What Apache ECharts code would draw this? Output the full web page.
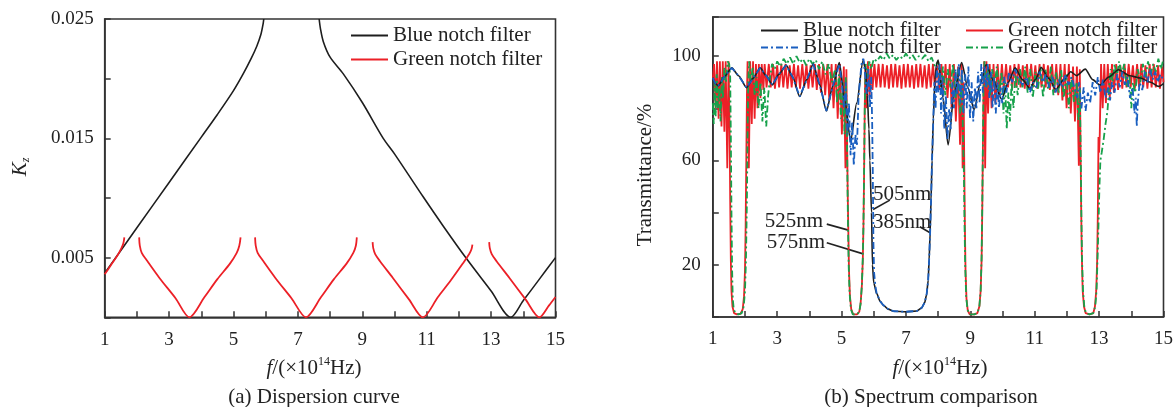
<!DOCTYPE html>
<html><head><meta charset="utf-8">
<script src="https://cdn.jsdelivr.net/npm/echarts@6/dist/echarts.min.js"></script>
<style>html,body{margin:0;padding:0;background:#fff}#c{width:1176px;height:407px}</style>
</head><body><div id="c"></div><script>
// ---------- (a) Dispersion curve ----------
const dispBlueSeg1 = [[1,0.0037],[2,0.0075],[3,0.0113],[4,0.0151],[4.5,0.0170],[5,0.0190],[5.3,0.0204],[5.55,0.0217],[5.72,0.0227],[5.85,0.0237],[5.92,0.0246],[5.94,0.0250]];
const dispBlueSeg2 = [[7.66,0.0250],[7.70,0.0242],[7.79,0.0231],[8.0,0.0218],[8.41,0.0204],[9.0,0.0180],[9.65,0.0150],[10.0,0.0137],[10.89,0.0101],[11.5,0.0077],[12.24,0.0049],[13.0,0.0022],[13.61,0],[14.0,0.0014],[14.5,0.0032],[15,0.0050]];
const dispGreenSegs = [
  [[1.00,0.0036],[1.20,0.0044],[1.40,0.0052],[1.52,0.0058],[1.58,0.0062],[1.61,0.0067]],
  [[2.07,0.0067],[2.09,0.0060],[2.15,0.0054],[2.30,0.0048],[2.70,0.0033],[3.20,0.0016],[3.63,0],[4.10,0.0017],[4.50,0.0032],[4.89,0.0045],[5.10,0.0054],[5.18,0.0060],[5.22,0.0067]],
  [[5.67,0.0067],[5.69,0.0060],[5.75,0.0054],[5.90,0.0048],[6.30,0.0033],[6.80,0.0016],[7.25,0],[7.72,0.0017],[8.12,0.0032],[8.51,0.0045],[8.72,0.0054],[8.80,0.0060],[8.83,0.0067]],
  [[9.32,0.0063],[9.34,0.0058],[9.40,0.0053],[9.55,0.0047],[9.95,0.0033],[10.45,0.0015],[10.88,0],[11.35,0.0017],[11.75,0.0031],[12.12,0.0045],[12.32,0.0053],[12.39,0.0057],[12.42,0.0061]],
  [[12.94,0.0063],[12.96,0.0058],[13.02,0.0053],[13.17,0.0047],[13.57,0.0033],[14.07,0.0015],[14.50,0],[14.80,0.0010],[15.00,0.0017]]
];
const dispYLabels = [0.005, 0.015, 0.025];
const freqLabels = [1,3,5,7,9,11,13,15];

// ---------- (b) Spectrum comparison ----------
const specGreenSolid = [[1.00,91],[1.04,97],[1.09,80],[1.13,98],[1.18,76],[1.22,98],[1.27,73],[1.31,98],[1.36,71],[1.40,98],[1.45,57],[1.49,98],
[1.52,75],[1.54,45],[1.56,22],[1.58,10],[1.61,4],[1.66,1.5],[1.75,1],[1.86,1.2],[1.93,3],[1.97,8],[2.00,18],[2.02,35],[2.04,60],[2.06,85],[2.08,98],
[2.12,57],[2.16,98],[2.21,74],[2.25,98],[2.30,76],[2.34,97],[2.39,80],[2.43,97],[2.48,84],[2.52,97],[2.57,87],
[2.61,97],[2.67,88],[2.74,97],[2.80,88],[2.87,97],[2.93,87.5],[3.00,96.5],[3.06,88],[3.13,97],[3.19,88],[3.26,97],[3.32,87.5],[3.39,96.5],[3.45,88],[3.52,97],[3.58,88],[3.65,96.5],[3.71,87.5],[3.78,97],[3.84,88],[3.91,97],[3.97,87.5],[4.04,96.5],[4.10,88],[4.17,97],[4.23,87],[4.30,97],[4.36,86],[4.43,97],[4.49,85],[4.56,97],[4.62,83],[4.69,97],[4.75,80],[4.82,97],[4.88,76],[4.95,97],[5.01,70],[5.07,96],[5.12,57],[5.15,95],
[5.17,70],[5.19,48],[5.21,33],[5.23,18],[5.26,8],[5.30,3],[5.36,1],[5.48,1],[5.55,2],[5.59,5],[5.63,12],[5.66,22],[5.68,35],[5.70,55],[5.72,80],[5.74,97],
[5.78,80],[5.82,98],[5.87,84],[5.91,97],[5.96,87],[6.02,97],[6.08,88],
[6.15,97],[6.21,88],[6.28,97],[6.34,88],[6.41,96.5],[6.47,87.5],[6.54,97],[6.60,88],[6.67,97],[6.73,88],[6.80,96.5],[6.86,87.5],[6.93,97],[6.99,88],[7.06,97],[7.12,88],[7.19,96.5],[7.25,87.5],[7.32,97],[7.38,88],[7.45,97],[7.51,88],[7.58,96.5],[7.64,87.5],[7.71,97],[7.77,88],[7.84,97],[7.90,88],[7.97,96.5],[8.03,87],[8.10,97],[8.16,86],[8.23,97],[8.29,84],[8.36,97],[8.42,80],[8.49,97],[8.55,75],[8.62,96],[8.68,66],[8.73,97],[8.76,57],
[8.79,90],[8.81,60],[8.83,35],[8.85,18],[8.88,7],[8.92,2.5],[8.98,1],[9.12,1],[9.22,1.5],[9.28,4],[9.32,10],[9.35,22],[9.37,40],[9.39,65],[9.41,90],[9.43,98],
[9.46,57],[9.50,98],[9.55,78],[9.60,97],[9.66,80],[9.72,97],[9.78,82],[9.85,97],[9.91,85],[9.98,97],[10.04,87],
[10.11,97],[10.17,88],[10.24,96.5],[10.30,87.5],[10.37,97],[10.43,88],[10.50,97],[10.56,88],[10.63,96.5],[10.69,87.5],[10.76,97],[10.82,88],[10.89,97],[10.95,88],[11.02,96.5],[11.08,87.5],[11.15,97],[11.21,88],[11.28,97],[11.34,88],[11.41,96.5],[11.47,87],[11.54,97],[11.60,86],[11.67,97],[11.73,85],[11.80,97],[11.86,83],[11.93,97],[11.99,80],[12.06,97],[12.12,78],[12.19,96],[12.25,75],[12.31,96],[12.37,58],[12.40,95],
[12.42,70],[12.44,45],[12.46,25],[12.49,10],[12.53,4],[12.58,1.5],[12.70,1],[12.82,1.5],[12.87,4],[12.91,10],[12.94,22],[12.96,40],[12.98,69],[13.00,63],[13.02,70],
[13.06,97],[13.11,80],[13.16,97],[13.21,82],[13.27,97],[13.33,84],[13.40,97],[13.46,86],
[13.53,97],[13.59,87],[13.66,96.5],[13.72,87.5],[13.79,97],[13.85,88],[13.92,97],[13.98,88],[14.05,96.5],[14.11,87.5],[14.18,97],[14.24,88],[14.31,97],[14.37,88],[14.44,96.5],[14.50,87.5],[14.57,97],[14.63,88],[14.70,97],[14.76,88],[14.83,96.5],[14.89,87.5],[14.96,96],[15.00,90]];

const specGreenDash = [[1.00,82],[1.03,74],[1.06,90],[1.09,77],[1.12,93],[1.16,80],[1.20,88],[1.24,75],[1.28,92],[1.32,84],[1.36,96],[1.41,90],[1.46,98],[1.51,97],[1.54,92],
[1.56,70],[1.58,40],[1.60,18],[1.62,7],[1.65,3],[1.70,1.5],[1.80,1],[1.90,1.5],[1.96,4],[2.00,10],[2.03,22],[2.06,45],[2.08,70],[2.10,90],[2.13,98],
[2.18,90],[2.24,96],[2.30,85],[2.36,92],[2.42,80],[2.48,90],[2.54,75],[2.60,88],[2.66,73],[2.72,85],[2.78,92],[2.84,97],[2.92,95],[3.0,98],[3.1,96],[3.2,99],[3.3,97],[3.4,99.5],[3.5,97],[3.6,100],[3.7,97.5],[3.8,99],[3.9,96.5],[4.0,99],[4.1,97],[4.2,98.5],[4.3,95],[4.4,98],[4.5,93],[4.6,97],[4.7,90],[4.8,95],[4.86,82],[4.92,93],[4.98,76],[5.04,90],[5.09,70],[5.13,92],
[5.16,80],[5.18,55],[5.20,35],[5.22,20],[5.25,9],[5.29,3],[5.35,1],[5.48,1],[5.55,2],[5.59,5],[5.63,12],[5.66,23],[5.68,36],[5.70,56],[5.72,80],[5.75,97],
[5.80,92],[5.86,98],[5.92,95],[6.0,99],[6.1,98],[6.2,100],[6.3,98.5],[6.4,101],[6.5,99],[6.6,100.5],[6.7,98.5],[6.8,100],[6.9,99],[7.0,101],[7.1,99],[7.2,100.5],[7.3,98.5],[7.4,100],[7.5,99],[7.6,100.5],[7.7,98],[7.8,99.5],[7.9,96],[8.0,98],[8.08,88],[8.15,96],[8.22,85],[8.30,95],[8.38,88],[8.46,97],[8.54,84],[8.62,95],[8.68,78],[8.74,94],[8.77,70],
[8.80,55],[8.82,35],[8.84,20],[8.87,8],[8.91,3],[8.97,1],[9.12,1],[9.22,1.5],[9.28,4],[9.32,10],[9.35,23],[9.37,42],[9.39,66],[9.41,88],[9.44,98],
[9.50,88],[9.56,96],[9.62,85],[9.68,95],[9.75,88],[9.82,96],[9.90,86],[9.97,94],[10.03,78],[10.08,90],[10.13,72],[10.18,86],[10.23,75],[10.28,90],[10.34,80],[10.40,93],[10.47,85],[10.54,95],[10.62,88],[10.70,96],[10.78,86],[10.86,95],[10.94,84],[11.02,94],[11.10,87],[11.18,96],[11.26,84],[11.34,95],[11.42,87],[11.50,96],[11.58,85],[11.66,94],[11.74,86],[11.82,95],[11.90,84],[11.98,93],[12.06,80],[12.14,92],[12.22,82],[12.30,90],[12.36,75],[12.40,88],
[12.43,60],[12.45,38],[12.47,22],[12.50,10],[12.54,4],[12.59,1.5],[12.70,1],[12.82,1.5],[12.88,4],[12.92,10],[12.95,22],[12.98,35],[13.01,50],[13.04,60],[13.08,63],[13.14,68],[13.20,74],[13.26,79],[13.31,88],[13.36,95],[13.42,90],[13.48,97],[13.55,92],[13.62,98],[13.70,93],[13.78,97],[13.86,88],[13.94,93],[14.00,80],[14.05,90],[14.12,86],[14.20,95],[14.28,90],[14.36,97],[14.44,92],[14.52,98],[14.60,93],[14.68,97],[14.76,94],[14.84,99],[14.92,95],[15.00,99]];

const specBlueSolid = [[1.00,91.7],[1.08,89.5],[1.17,88.6],[1.35,92],[1.59,95.5],[1.80,92.5],[2.05,87.9],[2.25,91.5],[2.47,95.5],[2.66,92.5],[2.85,89],[3.05,93],[3.28,96.5],[3.48,92],[3.70,84.5],[3.92,91],[4.12,97],[4.32,89],[4.53,79],[4.73,88.5],[4.93,97.5],[5.10,83],[5.28,67.5],[5.47,82],[5.67,98.5],[5.74,95],[5.80,85],[5.85,72],[5.88,60],[5.93,40],[5.96,20],[6.00,13],[6.09,9],[6.20,6],[6.30,4.5],[6.45,3],[6.62,2.2],[7.00,2],[7.34,2.3],[7.49,3.5],[7.58,5.5],[7.64,8.5],[7.69,14],[7.72,22],[7.75,32],[7.78,45],[7.81,60],[7.85,76],[7.90,91],[7.95,97],[8.00,98.5],[8.15,84],[8.31,66],[8.50,86],[8.73,97.5],[8.92,88],[9.12,79.5],[9.30,89],[9.49,96.8],[9.72,90.5],[9.97,83.5],[10.18,90],[10.39,95.5],[10.62,91],[10.85,87.6],[11.02,91],[11.20,95.6],[11.43,91.5],[11.66,87.3],[11.90,91],[12.12,94],[12.30,92.5],[12.57,95],[12.80,91],[13.03,88.9],[13.30,92],[13.60,94.8],[13.95,92.5],[14.28,91.6],[14.60,90],[14.85,88.4],[15.00,89.5]];

const specBlueDash = [[1.00,91.7],[1.08,89.5],[1.17,88.6],[1.35,92],[1.59,95.5],[1.80,92.5],[2.05,87.9],[2.25,91.5],[2.47,95.5],[2.66,92.5],[2.85,89],[3.05,93],[3.28,96.5],[3.48,92],[3.70,84.5],[3.92,91],[4.12,97],[4.32,89],[4.53,79],[4.73,88.5],[4.93,97],[5.02,88],[5.08,80],[5.13,90],[5.18,70],[5.23,82],[5.28,62],[5.33,75],[5.38,58],[5.43,70],[5.48,66],[5.53,85],[5.58,92],[5.63,98],[5.68,99],[5.73,93],[5.78,85],[5.83,95],[5.88,80],[5.92,92],[5.95,75],[5.97,55],[5.98,41],[5.99,28],[6.01,17],[6.05,12],[6.09,9],[6.20,6],[6.30,4.5],[6.45,3],[6.62,2.2],[7.00,2],[7.34,2.3],[7.49,3.5],[7.58,5.5],[7.64,8.5],[7.69,14],[7.72,22],[7.75,32],[7.78,45],[7.81,60],[7.85,76],[7.88,90],[7.92,80],[7.96,96],[8.00,86],[8.05,97],[8.09,78],[8.14,92],[8.19,72],[8.24,85],[8.29,68],[8.34,80],[8.39,72],[8.44,90],[8.49,80],[8.54,95],[8.59,85],[8.64,97],[8.69,82],[8.74,95],[8.79,78],[8.84,93],[8.89,80],[8.94,96],[8.99,76],[9.04,90],[9.09,75],[9.14,88],[9.19,80],[9.24,94],[9.29,82],[9.34,97],[9.39,86],[9.44,96],[9.49,88],[9.54,97],[9.59,84],[9.64,94],[9.69,80],[9.74,92],[9.79,78],[9.84,90],[9.89,80],[9.94,88],[9.99,82],[10.05,92],[10.12,86],[10.20,94],[10.30,90],[10.39,95],[10.50,91],[10.62,89],[10.75,92],[10.85,86],[10.95,90],[11.05,88],[11.15,94],[11.25,90],[11.35,93],[11.45,88],[11.55,92],[11.65,86],[11.75,91],[11.85,88],[11.95,93],[12.05,89],[12.15,92],[12.25,87],[12.32,84],[12.38,90],[12.45,80],[12.52,88],[12.58,79],[12.65,86],[12.72,82],[12.80,90],[12.88,85],[12.96,92],[13.04,86],[13.12,91],[13.20,84],[13.28,88],[13.34,83],[13.40,90],[13.48,86],[13.56,93],[13.64,88],[13.72,94],[13.80,89],[13.88,92],[13.96,84],[14.04,88],[14.10,78],[14.14,84],[14.17,73],[14.20,82],[14.26,90],[14.34,87],[14.42,94],[14.50,90],[14.58,95],[14.66,91],[14.74,94],[14.82,90],[14.90,93],[15.00,91]];

const specYLabels = [20, 60, 100];

// annotations (data coordinates of panel b)
const noteLabels   = ['505nm','385nm','525nm','575nm'];
const noteTextAt   = [[6.88,47.0],[6.88,36.4],[3.52,36.8],[3.58,28.4]];
const noteLineFrom = [[6.50,44.8],[7.43,34.6],[4.54,35.6],[4.54,28.5]];
const noteLineTo   = [[5.98,41.2],[7.75,32.3],[5.21,33.3],[5.67,24.2]];

// ---------- styling ----------
const FONT = "'Liberation Serif','Times New Roman',serif";
const AX = '#333';
const C_BLACK = '#1e1e1e', C_RED = '#ec2027', C_BLUE = '#1a5fc0', C_GREEN = '#17a14b';
const DASHDOT = [7,3,2,3];

function xAxisCfg(grid){
  return {type:'value', gridIndex:grid, min:1, max:15, interval:1,
    axisLine:{show:true, lineStyle:{color:AX, width:1.6}},
    axisTick:{show:true, inside:true, length:6, lineStyle:{color:AX, width:1.5}},
    axisLabel:{fontFamily:FONT, fontSize:19, color:'#222', margin:13,
      formatter:v => freqLabels.includes(Math.round(v)) && Math.abs(v-Math.round(v))<1e-6 ? String(Math.round(v)) : ''},
    splitLine:{show:false}};
}
const names = {
  bs:'Blue notch filter (b1)', gs:'Green notch filter (b1)',
  bd:'Blue notch filter (b2)', gd:'Green notch filter (b2)'
};
const stripName = n => n.replace(/ \(b\d\)$/, '');
const legendText = {fontFamily:FONT, fontSize:21, color:'#222', lineHeight:20};
const noSymbol = {color:'rgba(0,0,0,0)', borderColor:'rgba(0,0,0,0)', borderWidth:0, opacity:0};
function oneLegend(name, left, top){
  return {data:[name], left:left, top:top, orient:'vertical', padding:0, itemWidth:37, itemHeight:10,
    itemStyle:noSymbol, textStyle:legendText, formatter:stripName, selectedMode:false};
}

const series = [];
series.push({name:'Blue notch filter', type:'line', xAxisIndex:0, yAxisIndex:0, data:dispBlueSeg1, showSymbol:false, symbol:'none', smooth:0.3, lineStyle:{color:C_BLACK,width:1.6}, itemStyle:{color:C_BLACK}});
series.push({name:'Blue notch filter', type:'line', xAxisIndex:0, yAxisIndex:0, data:dispBlueSeg2, showSymbol:false, symbol:'none', smooth:0.3, lineStyle:{color:C_BLACK,width:1.6}, itemStyle:{color:C_BLACK}});
dispGreenSegs.forEach(seg => series.push({name:'Green notch filter', type:'line', xAxisIndex:0, yAxisIndex:0, data:seg, showSymbol:false, symbol:'none', smooth:0.3, lineStyle:{color:C_RED,width:1.8}, itemStyle:{color:C_RED}}));
series.push({name:names.gs, type:'line', xAxisIndex:1, yAxisIndex:1, data:specGreenSolid, showSymbol:false, symbol:'none', lineStyle:{color:C_RED,width:1.8}, itemStyle:{color:C_RED}});
series.push({name:names.gd, type:'line', xAxisIndex:1, yAxisIndex:1, data:specGreenDash, showSymbol:false, symbol:'none', lineStyle:{color:C_GREEN,width:1.8,type:DASHDOT}, itemStyle:{color:C_GREEN}});
series.push({name:names.bs, type:'line', xAxisIndex:1, yAxisIndex:1, data:specBlueSolid, showSymbol:false, symbol:'none', smooth:0.25, smoothMonotone:'x', lineStyle:{color:C_BLACK,width:1.6}, itemStyle:{color:C_BLACK}});
series.push({name:names.bd, type:'line', xAxisIndex:1, yAxisIndex:1, data:specBlueDash, showSymbol:false, symbol:'none', lineStyle:{color:C_BLUE,width:1.8,type:DASHDOT}, itemStyle:{color:C_BLUE}});

const chart = echarts.init(document.getElementById('c'), null, {renderer:'canvas'});
chart.setOption({
  animation:false,
  backgroundColor:'#fff',
  grid:[
    {left:104.7, top:19, width:450.8, height:298.3, show:true, borderColor:AX, borderWidth:1.6, backgroundColor:'transparent'},
    {left:712.8, top:17, width:450.8, height:300, show:true, borderColor:AX, borderWidth:1.6, backgroundColor:'transparent'}
  ],
  xAxis:[xAxisCfg(0), xAxisCfg(1)],
  yAxis:[
    {type:'value', gridIndex:0, min:0, max:0.025, interval:0.005,
      axisLine:{show:true, lineStyle:{color:AX, width:1.6}},
      axisTick:{show:true, inside:true, length:6, lineStyle:{color:AX, width:1.5}},
      axisLabel:{fontFamily:FONT, fontSize:19, color:'#222', margin:11,
        formatter:v => dispYLabels.some(t => Math.abs(t-v)<1e-9) ? v.toFixed(3) : ''},
      splitLine:{show:false}},
    {type:'value', gridIndex:1, min:0, max:115, interval:20,
      axisLine:{show:true, lineStyle:{color:AX, width:1.6}},
      axisTick:{show:true, inside:true, length:6, lineStyle:{color:AX, width:1.5}},
      axisLabel:{fontFamily:FONT, fontSize:19, color:'#222', margin:12,
        formatter:v => specYLabels.includes(v) ? String(v) : ''},
      splitLine:{show:false}}
  ],
  legend:[
    {data:['Blue notch filter','Green notch filter'], left:350, top:25, orient:'vertical', padding:0, itemGap:3,
      itemWidth:37, itemHeight:10, itemStyle:noSymbol, textStyle:legendText, selectedMode:false},
    oneLegend(names.bs, 760, 20),
    oneLegend(names.bd, 760, 37),
    oneLegend(names.gs, 965, 20),
    oneLegend(names.gd, 965, 37)
  ],
  series: series
});

// texts: axis names and captions, plus annotations placed via data coordinates
const gText = (x, y, text, extra) => Object.assign({type:'text', x:x, y:y, silent:true,
  style:Object.assign({text:text, fontFamily:FONT, fontSize:21, fill:'#222', align:'center', verticalAlign:'middle'}, extra||{})});
const freqRich = {
  i:{fontFamily:FONT, fontSize:21, fontStyle:'italic', lineHeight:24, fill:'#222'},
  n:{fontFamily:FONT, fontSize:21, lineHeight:24, fill:'#222'},
  s:{fontFamily:FONT, fontSize:12, verticalAlign:'top', fill:'#222'}
};
const freqText = '{i|f}{n|/(×10}{s|14}{n|Hz)}';
const graphics = [
  gText(314, 368, freqText, {rich:freqRich}),
  gText(940, 368, freqText, {rich:freqRich}),
  gText(314, 397, '(a) Dispersion curve'),
  gText(931, 397, '(b) Spectrum comparison'),
  Object.assign(gText(20, 167, '{k|K}{z|z}', {rich:{
    k:{fontFamily:FONT, fontSize:21, fontStyle:'italic', lineHeight:24, fill:'#222'},
    z:{fontFamily:FONT, fontSize:12, fontStyle:'italic', verticalAlign:'bottom', fill:'#222'}}}), {rotation:Math.PI/2}),
  Object.assign(gText(645, 175, 'Transmittance/%'), {rotation:Math.PI/2})
];
noteLabels.forEach((lab, i) => {
  const p = chart.convertToPixel({gridIndex:1}, noteTextAt[i]);
  const a = chart.convertToPixel({gridIndex:1}, noteLineFrom[i]);
  const b = chart.convertToPixel({gridIndex:1}, noteLineTo[i]);
  graphics.push(gText(p[0], p[1], lab));
  graphics.push({type:'line', silent:true, shape:{x1:a[0], y1:a[1], x2:b[0], y2:b[1]}, style:{stroke:'#222', lineWidth:1.6}});
});
chart.setOption({graphic:graphics});
</script></body></html>
